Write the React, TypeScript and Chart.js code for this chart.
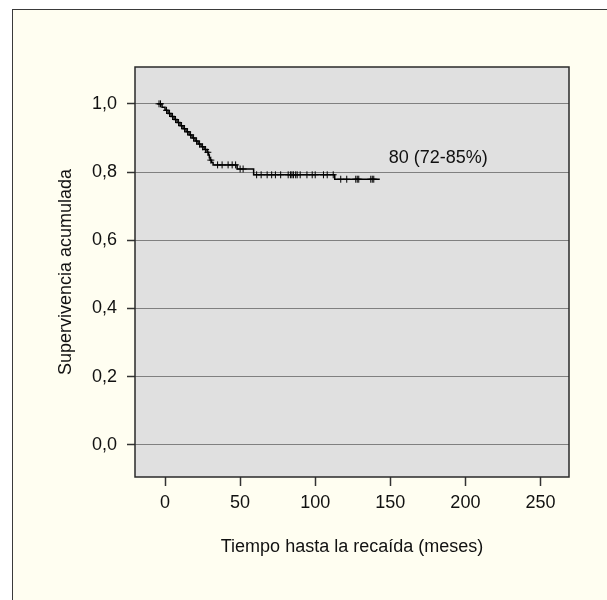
import React, { useEffect, useRef } from "react";
import { Chart, registerables } from "chart.js";

Chart.register(...registerables);

// Kaplan-Meier step curve: time (months) and cumulative survival after each step
const eventTimes = [-5, -2, 0, 2, 4, 6, 8, 10, 12, 14, 16, 18, 20, 22, 24, 26, 28, 29, 29.5, 30, 31, 32, 48, 59, 113, 143];
const survival = [1.0, 0.99, 0.981, 0.972, 0.963, 0.954, 0.945, 0.936, 0.927, 0.918, 0.909, 0.9, 0.891, 0.882, 0.874, 0.866, 0.858, 0.85, 0.842, 0.835, 0.828, 0.821, 0.809, 0.792, 0.779, 0.779];

// censored observations (months)
const censorTimes = [-4, -3, 1, 3, 5, 7, 9, 11, 13, 15, 17, 19, 21, 23, 25, 27, 28.5, 30.5,
  35, 38, 42, 44.7, 47, 50, 52,
  61, 64, 68, 71, 73.5, 77, 82, 83.5, 84.5, 85.5, 87, 88, 90, 94.5, 98, 100, 105.5, 108, 112,
  117, 121, 127, 128, 129, 137, 138, 139];

const xTickValues = [0, 50, 100, 150, 200, 250];
const xTickLabels = ["0", "50", "100", "150", "200", "250"];
const yTickValues = [0, 0.2, 0.4, 0.6, 0.8, 1.0];
const yTickLabels = ["0,0", "0,2", "0,4", "0,6", "0,8", "1,0"];

const annotationText = "80 (72-85%)";
const annotationX = 149;
const annotationY = 0.826;

const xTitle = "Tiempo hasta la recaída (meses)";
const yTitle = "Supervivencia acumulada";

function survivalAt(t: number): number {
  let s = survival[0];
  for (let i = 0; i < eventTimes.length; i++) {
    if (eventTimes[i] <= t) s = survival[i];
  }
  return s;
}

const FONT = "'Liberation Sans', Arial, Helvetica, sans-serif";

export default function App() {
  const canvasRef = useRef<HTMLCanvasElement | null>(null);

  useEffect(() => {
    const canvas = canvasRef.current;
    if (!canvas) return;

    const boxPlugin = {
      id: "boxPlugin",
      beforeDraw(chart: any) {
        const { ctx, chartArea } = chart;
        ctx.save();
        ctx.fillStyle = "#e0e0e0";
        ctx.fillRect(chartArea.left, chartArea.top, chartArea.right - chartArea.left, chartArea.bottom - chartArea.top);
        ctx.restore();
      },
      afterDatasetsDraw(chart: any) {
        const { ctx, scales } = chart;
        ctx.save();
        ctx.fillStyle = "#111";
        ctx.font = `18px ${FONT}`;
        ctx.textAlign = "left";
        ctx.textBaseline = "alphabetic";
        ctx.fillText(annotationText, scales.x.getPixelForValue(annotationX), scales.y.getPixelForValue(annotationY));
        ctx.restore();
      },
      afterDraw(chart: any) {
        const { ctx, chartArea } = chart;
        ctx.save();
        ctx.strokeStyle = "#2a2a2a";
        ctx.lineWidth = 1.5;
        ctx.strokeRect(chartArea.left, chartArea.top, chartArea.right - chartArea.left, chartArea.bottom - chartArea.top);
        ctx.restore();
      },
    };

    const chart = new Chart(canvas, {
      type: "line",
      data: {
        datasets: [
          {
            label: "KM",
            data: eventTimes.map((t, i) => ({ x: t, y: survival[i] })),
            stepped: true,
            borderColor: "#000",
            borderWidth: 1.5,
            pointRadius: 0,
            fill: false,
          } as any,
          {
            label: "Censored",
            data: censorTimes.map((t) => ({ x: t, y: survivalAt(t) })),
            showLine: false,
            pointStyle: "cross",
            pointRadius: 3.5,
            borderColor: "#000",
            borderWidth: 1,
            backgroundColor: "#000",
          } as any,
        ],
      },
      options: {
        responsive: false,
        animation: false,
        events: [],
        layout: { padding: { left: 0, top: 67, right: 38, bottom: 0 } },
        plugins: {
          legend: { display: false },
          tooltip: { enabled: false },
        },
        scales: {
          x: {
            type: "linear",
            min: -20,
            max: 269,
            afterBuildTicks: (scale: any) => {
              scale.ticks = xTickValues.map((v) => ({ value: v }));
            },
            afterFit: (scale: any) => {
              scale.height = 123;
            },
            ticks: {
              callback: (_v: any, i: number) => xTickLabels[i],
              color: "#111",
              font: { family: FONT, size: 18 },
              padding: 6,
              maxRotation: 0,
              autoSkip: false,
            },
            grid: {
              drawOnChartArea: false,
              drawTicks: true,
              tickLength: 9,
              tickColor: "#333",
              tickWidth: 1.5,
            },
            border: { display: false },
            title: {
              display: true,
              text: xTitle,
              color: "#111",
              font: { family: FONT, size: 18 },
              padding: { top: 0, bottom: 42 },
            },
          },
          y: {
            type: "linear",
            min: -0.094,
            max: 1.108,
            afterBuildTicks: (scale: any) => {
              scale.ticks = yTickValues.map((v) => ({ value: v }));
            },
            afterFit: (scale: any) => {
              scale.width = 135;
            },
            ticks: {
              callback: (_v: any, i: number) => yTickLabels[i],
              color: "#111",
              font: { family: FONT, size: 18 },
              padding: 10,
              autoSkip: false,
            },
            grid: {
              color: "#808080",
              lineWidth: 1,
              drawTicks: true,
              tickLength: 8,
              tickColor: "#333",
              tickWidth: 1.5,
            },
            border: { display: false },
            title: {
              display: true,
              text: yTitle,
              color: "#111",
              font: { family: FONT, size: 18 },
              padding: { top: 55, bottom: 0 },
            },
          },
        },
      },
      plugins: [boxPlugin],
    });

    return () => {
      chart.destroy();
    };
  }, []);

  return (
    <div
      style={{
        position: "fixed",
        left: 0,
        top: 0,
        width: 607,
        height: 600,
        overflow: "hidden",
        background: "#ffffff",
      }}
    >
      <div
        style={{
          position: "absolute",
          left: 12,
          top: 9,
          width: 700,
          height: 700,
          border: "1px solid #3a3a3a",
          background: "#fffef1",
        }}
      />
      <canvas
        ref={canvasRef}
        width={607}
        height={600}
        style={{ position: "absolute", left: 0, top: 0, display: "block" }}
      />
    </div>
  );
}
